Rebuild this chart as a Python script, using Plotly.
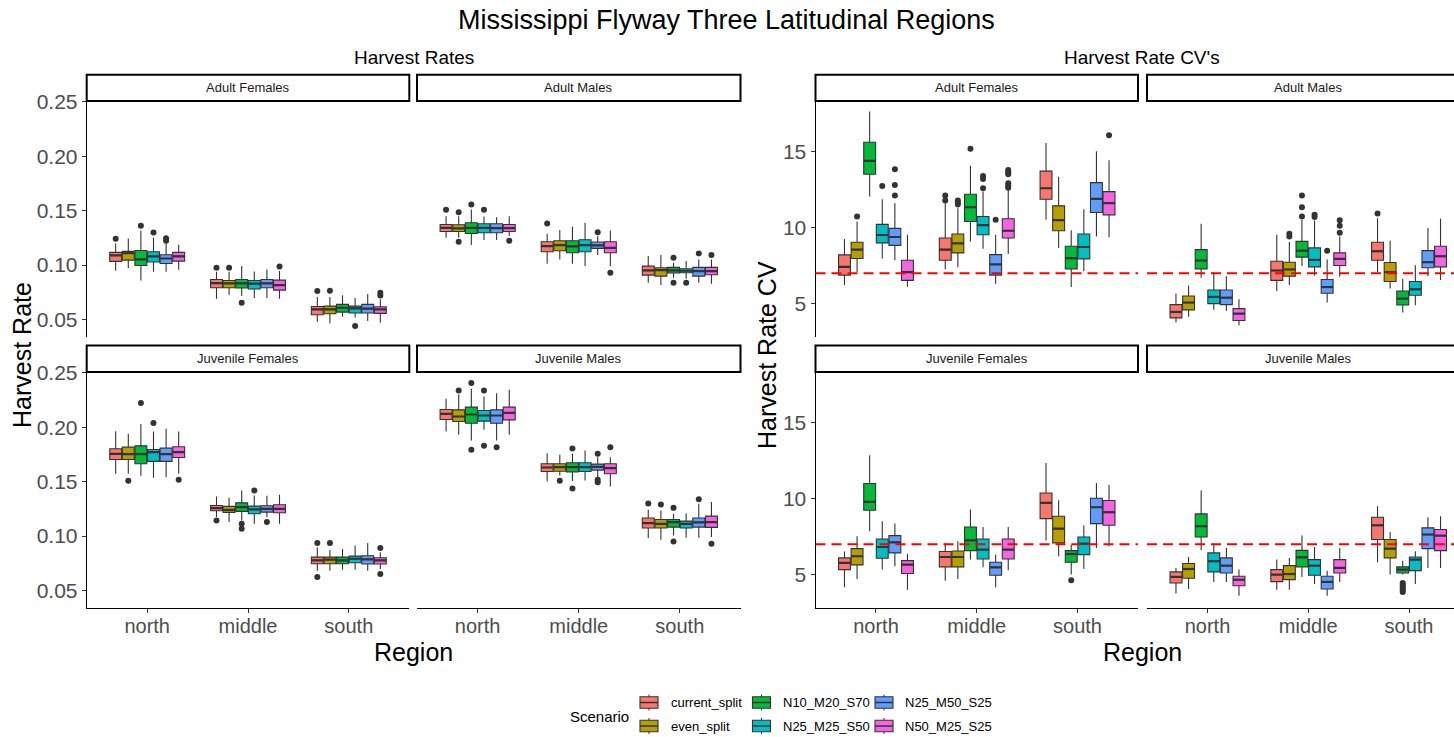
import plotly.graph_objects as go

# ---------------- data ----------------
SCENARIOS = ["current_split", "even_split", "N10_M20_S70", "N25_M25_S50", "N25_M50_S25", "N50_M25_S25"]
COLORS = ["#F8766D", "#B79F00", "#00BA38", "#00BFC4", "#619CFF", "#F564E3"]
REGIONS = ["north", "middle", "south"]
HR_TICKS = [0.05, 0.10, 0.15, 0.20, 0.25]
CV_TICKS = [5, 10, 15]
CV_TARGET = 7

# Harvest rates, Adult Females  (rows = scenarios, cols = north/middle/south)
AF_HR_q1 = [[.1033, .0791, .0543], [.1045, .0791, .0552], [.0996, .0788, .0567], [.1027, .0779, .0558], [.1014, .0791, .0558], [.1036, .0769, .0555]]
AF_HR_med = [[.1088, .0834, .0592], [.1109, .0831, .0592], [.1051, .0831, .0607], [.1079, .0828, .0601], [.1060, .0831, .0598], [.1079, .0815, .0592]]
AF_HR_q3 = [[.1116, .0867, .0619], [.1125, .0858, .0622], [.1134, .0867, .0638], [.1122, .0858, .0622], [.1094, .0867, .0638], [.1116, .0861, .0616]]
AF_HR_lo = [[.0947, .0690, .0478], [.0972, .0727, .0463], [.0858, .0714, .0524], [.0938, .0696, .0518], [.0938, .0696, .0484], [.0956, .0690, .0469]]
AF_HR_hi = [[.1198, .0938, .0705], [.1244, .0938, .0705], [.1318, .0990, .0723], [.1250, .0941, .0696], [.1198, .0959, .0733], [.1186, .0944, .0684]]
AF_HR_out = [(0, 0, .1241), (2, 0, .1361), (3, 0, .1299), (4, 0, .1247), (4, 0, .1223), (0, 1, .0975), (1, 1, .0975),
             (2, 1, .0653), (5, 1, .0987), (0, 2, .0760), (1, 2, .0763), (3, 2, .0439), (5, 2, .0745), (5, 2, .0720)]

# Harvest rates, Adult Males
AM_HR_q1 = [[.1308, .1122, .0907], [.1308, .1131, .0898], [.1290, .1113, .0926], [.1296, .1122, .0929], [.1296, .1153, .0898], [.1308, .1113, .0910]]
AM_HR_med = [[.1342, .1174, .0950], [.1336, .1183, .0953], [.1342, .1171, .0950], [.1342, .1183, .0947], [.1339, .1180, .0944], [.1339, .1158, .0944]]
AM_HR_q3 = [[.1373, .1214, .0990], [.1370, .1223, .0975], [.1388, .1223, .0978], [.1379, .1232, .0966], [.1379, .1211, .0978], [.1373, .1214, .0978]]
AM_HR_lo = [[.1250, .1011, .0837], [.1250, .1051, .0815], [.1183, .1011, .0883], [.1229, .0990, .0874], [.1229, .1091, .0837], [.1266, .0990, .0828]]
AM_HR_hi = [[.1449, .1287, .1082], [.1449, .1321, .1091], [.1511, .1351, .1021], [.1446, .1388, .1036], [.1440, .1266, .1051], [.1449, .1318, .1051]]
AM_HR_out = [(0, 0, .1508), (1, 0, .1486), (1, 0, .1214), (2, 0, .1557), (3, 0, .1508), (5, 0, .1223), (0, 1, .1382),
             (4, 1, .1302), (5, 1, .0929), (2, 2, .1067), (2, 2, .0837), (3, 2, .0837), (4, 2, .1106), (5, 2, .1091)]

# Harvest rates, Juvenile Females
JF_HR_q1 = [[.1704, .1232, .0745], [.1704, .1217, .0745], [.1664, .1226, .0745], [.1686, .1204, .0754], [.1686, .1220, .0742], [.1722, .1214, .0742]]
JF_HR_med = [[.1756, .1256, .0776], [.1753, .1241, .0782], [.1753, .1266, .0776], [.1771, .1244, .0791], [.1753, .1250, .0785], [.1771, .1250, .0776]]
JF_HR_q3 = [[.1802, .1281, .0806], [.1817, .1272, .0806], [.1829, .1305, .0806], [.1796, .1275, .0815], [.1808, .1278, .0818], [.1820, .1287, .0800]]
JF_HR_lo = [[.1572, .1174, .0681], [.1572, .1128, .0681], [.1554, .1143, .0690], [.1535, .1113, .0690], [.1541, .1174, .0681], [.1572, .1113, .0696]]
JF_HR_hi = [[.1964, .1364, .0895], [.1940, .1351, .0871], [.2029, .1419, .0880], [.1961, .1373, .0913], [.1986, .1370, .0935], [.1961, .1379, .0850]]
JF_HR_out = [(1, 0, .1508), (2, 0, .2224), (3, 0, .2038), (5, 0, .1517), (0, 1, .1143), (2, 1, .1113), (2, 1, .1067),
             (3, 1, .1419), (4, 1, .1128), (0, 2, .0935), (0, 2, .0622), (1, 2, .0935), (5, 2, .0889), (5, 2, .0650)]

# Harvest rates, Juvenile Males
JM_HR_q1 = [[.2071, .1593, .1073], [.2053, .1596, .1073], [.2037, .1590, .1082], [.2056, .1593, .1073], [.2037, .1606, .1082], [.2068, .1572, .1079]]
JM_HR_med = [[.2123, .1630, .1119], [.2099, .1633, .1112], [.2117, .1633, .1128], [.2108, .1633, .1112], [.2108, .1636, .1125], [.2132, .1624, .1128]]
JM_HR_q3 = [[.2163, .1664, .1165], [.2160, .1664, .1152], [.2185, .1673, .1152], [.2154, .1673, .1137], [.2160, .1661, .1165], [.2185, .1664, .1183]]
JM_HR_lo = [[.1961, .1501, .0981], [.1930, .1557, .0965], [.1878, .1505, .1005], [.1976, .1511, .0984], [.1878, .1541, .0984], [.1930, .1456, .0990]]
JM_HR_hi = [[.2261, .1762, .1241], [.2301, .1746, .1235], [.2353, .1756, .1204], [.2283, .1786, .1210], [.2313, .1725, .1296], [.2344, .1725, .1312]]
JM_HR_out = [(1, 0, .2338), (2, 0, .2408), (2, 0, .1792), (3, 0, .2338), (3, 0, .1829), (4, 0, .1817), (1, 1, .1508),
             (2, 1, .1805), (2, 1, .1437), (4, 1, .1756), (4, 1, .1517), (4, 1, .1495), (5, 1, .1817), (0, 2, .1299),
             (1, 2, .1290), (2, 2, .1259), (2, 2, .0950), (4, 2, .1339), (5, 2, .0929)]

# Harvest rate CVs, Adult Females
AF_CV_q1 = [[6.88, 7.86, 11.88], [7.97, 8.34, 9.80], [13.52, 10.41, 7.29], [9.00, 9.54, 7.95], [8.84, 6.88, 11.00], [6.53, 9.32, 10.85]]
AF_CV_med = [[7.42, 8.56, 12.60], [8.56, 8.97, 10.50], [14.41, 11.35, 7.99], [9.52, 10.17, 8.73], [9.39, 7.58, 11.90], [7.07, 9.80, 11.62]]
AF_CV_q3 = [[8.21, 9.32, 13.73], [9.04, 9.59, 11.44], [15.63, 12.21, 8.78], [10.22, 10.74, 9.59], [9.96, 8.23, 12.97], [7.86, 10.59, 12.38]]
AF_CV_lo = [[6.22, 7.25, 10.52], [7.07, 7.40, 8.67], [12.05, 9.10, 6.09], [7.97, 8.62, 7.14], [7.86, 6.31, 9.43], [6.11, 8.27, 9.37]]
AF_CV_hi = [[9.26, 11.62, 15.59], [10.41, 11.29, 13.36], [17.66, 14.08, 9.83], [11.88, 12.38, 11.22], [11.62, 9.54, 15.04], [9.54, 12.45, 14.45]]
AF_CV_out = [(1, 0, 10.74), (3, 0, 12.75), (4, 0, 13.86), (4, 0, 12.82), (4, 0, 12.12), (0, 1, 12.12), (0, 1, 11.79),
             (1, 1, 11.79), (1, 1, 11.66), (1, 1, 11.53), (2, 1, 15.20), (3, 1, 13.41), (3, 1, 13.21), (3, 1, 12.60),
             (4, 1, 10.52), (5, 1, 13.80), (5, 1, 13.65), (5, 1, 13.52), (5, 1, 12.93), (5, 1, 12.77), (5, 1, 12.64),
             (5, 2, 16.09)]

# Harvest rate CVs, Adult Males
AM_CV_q1 = [[4.06, 6.53, 7.86], [4.59, 6.81, 6.46], [7.29, 8.06, 4.91], [5.00, 7.42, 5.55], [4.93, 5.68, 7.36], [3.89, 7.51, 7.42]]
AM_CV_med = [[4.45, 7.18, 8.45], [5.07, 7.25, 7.07], [7.84, 8.49, 5.33], [5.44, 7.88, 5.94], [5.39, 6.09, 7.73], [4.34, 7.95, 8.12]]
AM_CV_q3 = [[4.93, 7.79, 9.04], [5.50, 7.73, 7.71], [8.56, 9.10, 5.83], [5.90, 8.67, 6.46], [5.90, 6.59, 8.49], [4.67, 8.34, 8.78]]
AM_CV_lo = [[3.76, 5.83, 7.07], [4.13, 6.22, 6.00], [6.70, 7.47, 4.41], [4.59, 6.86, 4.89], [4.52, 5.07, 6.81], [3.58, 6.77, 6.55]]
AM_CV_hi = [[5.66, 9.54, 10.63], [6.20, 9.06, 9.15], [10.26, 10.52, 6.64], [7.07, 10.48, 7.53], [6.81, 7.90, 9.98], [5.28, 9.43, 10.59]]
AM_CV_out = [(1, 1, 9.61), (1, 1, 9.43), (2, 1, 12.12), (2, 1, 11.35), (2, 1, 10.74), (3, 1, 10.85), (3, 1, 10.70),
             (4, 1, 8.49), (5, 1, 10.50), (5, 1, 10.13), (5, 1, 9.67), (0, 2, 10.94)]

# Harvest rate CVs, Juvenile Females
JF_CV_q1 = [[5.33, 5.51, 8.69], [5.64, 5.51, 7.09], [9.24, 6.58, 5.81], [6.08, 6.03, 6.32], [6.43, 4.96, 8.36], [5.07, 6.03, 8.25]]
JF_CV_med = [[5.77, 6.16, 9.73], [6.21, 6.16, 8.03], [9.79, 7.26, 6.36], [6.82, 6.65, 7.04], [7.13, 5.48, 9.44], [5.66, 6.65, 9.11]]
JF_CV_q3 = [[6.10, 6.52, 10.38], [6.71, 6.56, 8.85], [11.00, 8.14, 6.58], [7.35, 7.35, 7.48], [7.57, 5.81, 10.03], [5.92, 7.35, 9.88]]
JF_CV_lo = [[4.16, 4.60, 7.24], [4.71, 4.71, 6.21], [7.86, 5.99, 5.00], [5.33, 5.48, 5.37], [5.55, 4.16, 6.76], [4.01, 5.29, 6.87]]
JF_CV_hi = [[6.52, 7.09, 12.36], [7.53, 7.20, 9.90], [12.87, 9.29, 6.98], [8.52, 8.14, 8.23], [8.36, 6.32, 11.04], [6.38, 8.14, 10.91]]
JF_CV_out = [(2, 2, 4.63)]

# Harvest rate CVs, Juvenile Males
JM_CV_q1 = [[4.45, 4.54, 7.31], [4.76, 4.67, 6.10], [7.48, 5.51, 5.11], [5.18, 4.96, 5.26], [5.11, 4.05, 6.71], [4.27, 5.11, 6.58]]
JM_CV_med = [[4.85, 5.00, 8.25], [5.37, 5.04, 6.71], [8.19, 6.14, 5.33], [5.88, 5.59, 5.99], [5.59, 4.52, 7.64], [4.66, 5.44, 7.57]]
JM_CV_q3 = [[5.18, 5.33, 8.78], [5.73, 5.59, 7.31], [9.00, 6.60, 5.51], [6.43, 5.99, 6.16], [6.10, 4.89, 8.08], [4.89, 5.99, 7.97]]
JM_CV_lo = [[3.75, 4.01, 5.81], [4.05, 4.01, 5.00], [6.60, 4.85, 5.00], [4.52, 4.38, 4.38], [4.52, 3.61, 5.44], [3.61, 4.52, 5.44]]
JM_CV_hi = [[5.44, 5.99, 9.51], [6.16, 6.10, 7.81], [10.54, 7.57, 5.92], [7.04, 6.82, 6.54], [6.76, 5.26, 8.78], [5.33, 6.76, 8.85]]
JM_CV_out = [(2, 2, 4.45), (2, 2, 4.32), (2, 2, 4.20), (2, 2, 4.08), (2, 2, 3.96), (2, 2, 3.85)]

# ---------------- layout helpers ----------------
W, H = 1454, 737
FONT = "Arial, Liberation Sans, sans-serif"


def fx(px):
    return px / W


def fy(py):
    return 1 - py / H


COLS = {"A": (86.7, 409.3), "B": (417.0, 740.5), "C": (815.5, 1138.0), "D": (1147.0, 1454.0)}
ROWS = {"top": (101.0, 337.0), "bot": (372.0, 608.0)}
STRIPS = {"top": (74.7, 101.0), "bot": (345.5, 372.0)}
FULL_W = 322.5  # width of a full panel in px
HR_RANGE = [0.0338, 0.2508]
CV_RANGE = [2.8, 18.35]

# (axis index, col, row, title, kind, data)
PANELS = [
    (1, "A", "top", "Adult Females", "HR", (AF_HR_q1, AF_HR_med, AF_HR_q3, AF_HR_lo, AF_HR_hi, AF_HR_out)),
    (2, "B", "top", "Adult Males", "HR", (AM_HR_q1, AM_HR_med, AM_HR_q3, AM_HR_lo, AM_HR_hi, AM_HR_out)),
    (3, "A", "bot", "Juvenile Females", "HR", (JF_HR_q1, JF_HR_med, JF_HR_q3, JF_HR_lo, JF_HR_hi, JF_HR_out)),
    (4, "B", "bot", "Juvenile Males", "HR", (JM_HR_q1, JM_HR_med, JM_HR_q3, JM_HR_lo, JM_HR_hi, JM_HR_out)),
    (5, "C", "top", "Adult Females", "CV", (AF_CV_q1, AF_CV_med, AF_CV_q3, AF_CV_lo, AF_CV_hi, AF_CV_out)),
    (6, "D", "top", "Adult Males", "CV", (AM_CV_q1, AM_CV_med, AM_CV_q3, AM_CV_lo, AM_CV_hi, AM_CV_out)),
    (7, "C", "bot", "Juvenile Females", "CV", (JF_CV_q1, JF_CV_med, JF_CV_q3, JF_CV_lo, JF_CV_hi, JF_CV_out)),
    (8, "D", "bot", "Juvenile Males", "CV", (JM_CV_q1, JM_CV_med, JM_CV_q3, JM_CV_lo, JM_CV_hi, JM_CV_out)),
]

DODGE = 0.125
BOXW = 0.118
OFFS = [(i - 2.5) * DODGE for i in range(len(SCENARIOS))]
LINE = "#333333"

fig = go.Figure()
layout = dict(
    template="none",
    width=W, height=H, margin=dict(l=0, r=0, t=0, b=0, pad=0, autoexpand=False),
    paper_bgcolor="white", plot_bgcolor="white",
    font=dict(family=FONT, color="#1A1A1A"),
    showlegend=False, boxmode="overlay",
)
shapes, annots = [], []

for n, col, row, title, kind, data in PANELS:
    q1, med, q3, lo, hi, outl = data
    xa, ya = f"x{n}", f"y{n}"
    c0, c1 = COLS[col]
    r0, r1 = ROWS[row]
    xmax = 0.4 + 3.2 * (c1 - c0) / FULL_W if col == "D" else 3.6
    bottom = row == "bot"
    leftmost = col in ("A", "C")

    layout[f"xaxis{n}"] = dict(
        domain=[fx(c0), fx(c1)], range=[0.4, xmax], anchor=ya, automargin=False,
        showgrid=False, zeroline=False, fixedrange=True,
        showline=bottom, linecolor="black", linewidth=1,
        ticks="outside" if bottom else "", ticklen=4, tickcolor=LINE, tickwidth=1,
        tickvals=[1, 2, 3], ticktext=REGIONS, showticklabels=bottom, ticklabelstandoff=-4,
        tickfont=dict(size=20, color="#4D4D4D", family=FONT),
    )
    if kind == "HR":
        yr, tv, tt = HR_RANGE, HR_TICKS, [f"{v:.2f}" for v in HR_TICKS]
    else:
        yr, tv, tt = CV_RANGE, CV_TICKS, [str(v) for v in CV_TICKS]
    layout[f"yaxis{n}"] = dict(
        domain=[fy(r1), fy(r0)], range=yr, anchor=xa, automargin=False,
        showgrid=False, zeroline=False, fixedrange=True,
        showline=leftmost, linecolor="black", linewidth=1,
        ticks="outside" if leftmost else "", ticklen=4, tickcolor=LINE, tickwidth=1,
        tickvals=tv, ticktext=tt, showticklabels=leftmost,
        tickfont=dict(size=21, color="#4D4D4D", family=FONT),
    )

    for i, name in enumerate(SCENARIOS):
        xs = [r + 1 + OFFS[i] for r in range(len(REGIONS))]
        fig.add_trace(go.Box(
            x=xs, q1=q1[i], median=med[i], q3=q3[i], lowerfence=lo[i], upperfence=hi[i],
            width=BOXW, fillcolor=COLORS[i], line=dict(color=LINE, width=1.1),
            whiskerwidth=0, boxpoints=False, name=name, xaxis=xa, yaxis=ya,
            hoverinfo="skip", showlegend=False,
        ))
        mx, my = [], []
        for r in range(len(REGIONS)):
            mx += [xs[r] - BOXW / 2, xs[r] + BOXW / 2, None]
            my += [med[i][r], med[i][r], None]
        fig.add_trace(go.Scatter(x=mx, y=my, mode="lines", line=dict(color=LINE, width=2.2),
                                 xaxis=xa, yaxis=ya, hoverinfo="skip", showlegend=False))

    ox = [o[1] + 1 + OFFS[o[0]] for o in outl]
    oy = [o[2] for o in outl]
    fig.add_trace(go.Scatter(x=ox, y=oy, mode="markers", marker=dict(color=LINE, size=6),
                             xaxis=xa, yaxis=ya, hoverinfo="skip", showlegend=False))

    if kind == "CV":
        shapes.append(dict(type="line", xref=f"{xa} domain", yref=ya, x0=0, x1=1, y0=CV_TARGET, y1=CV_TARGET,
                           line=dict(color="#FF0000", width=2, dash="10px,6px"), layer="above"))

    # strip
    s0, s1 = STRIPS[row]
    sx1 = fx(c0 + FULL_W) if col == "D" else fx(c1)
    shapes.append(dict(type="rect", xref="paper", yref="paper", x0=fx(c0), x1=sx1, y0=fy(s1), y1=fy(s0),
                       line=dict(color="black", width=2), fillcolor="white", layer="above"))
    annots.append(dict(text=title, xref="paper", yref="paper", x=fx((c0 + c0 + FULL_W) / 2), y=fy((s0 + s1) / 2),
                       showarrow=False, xanchor="center", yanchor="middle",
                       font=dict(size=13, color="#1A1A1A", family=FONT)))

# titles
annots.append(dict(text="Mississippi Flyway Three Latitudinal Regions", x=fx(726), y=fy(20), xref="paper", yref="paper",
                   showarrow=False, xanchor="center", yanchor="middle", font=dict(size=27, color="black", family=FONT)))
annots.append(dict(text="Harvest Rates", x=fx(414), y=fy(58), xref="paper", yref="paper",
                   showarrow=False, xanchor="center", yanchor="middle", font=dict(size=19, color="black", family=FONT)))
annots.append(dict(text="Harvest Rate CV's", x=fx(1142), y=fy(58), xref="paper", yref="paper",
                   showarrow=False, xanchor="center", yanchor="middle", font=dict(size=19, color="black", family=FONT)))
annots.append(dict(text="Harvest Rate", x=fx(22), y=fy(355), xref="paper", yref="paper", textangle=-90,
                   showarrow=False, xanchor="center", yanchor="middle", font=dict(size=25, color="black", family=FONT)))
annots.append(dict(text="Harvest Rate CV", x=fx(767), y=fy(355), xref="paper", yref="paper", textangle=-90,
                   showarrow=False, xanchor="center", yanchor="middle", font=dict(size=25, color="black", family=FONT)))
for cx in (413, 1142):
    annots.append(dict(text="Region", x=fx(cx), y=fy(652), xref="paper", yref="paper",
                       showarrow=False, xanchor="center", yanchor="middle", font=dict(size=25, color="black", family=FONT)))

# manual legend (2 rows x 3 columns, column-major order)
annots.append(dict(text="Scenario", x=fx(568), y=fy(716), xref="paper", yref="paper",
                   showarrow=False, xanchor="left", yanchor="middle", font=dict(size=15, color="black", family=FONT)))
KEY_X = [640, 752.5, 875]
TXT_X = [669, 780.5, 903]
ROW_Y = [702.5, 726]
for i, name in enumerate(SCENARIOS):
    c, r = i // 2, i % 2
    kx0, kx1 = KEY_X[c], KEY_X[c] + 18
    cy = ROW_Y[r]
    kcx = (kx0 + kx1) / 2
    shapes.append(dict(type="line", xref="paper", yref="paper", x0=fx(kcx), x1=fx(kcx), y0=fy(cy - 8), y1=fy(cy + 8),
                       line=dict(color=LINE, width=1)))
    shapes.append(dict(type="rect", xref="paper", yref="paper", x0=fx(kx0), x1=fx(kx1), y0=fy(cy + 5.7), y1=fy(cy - 5.7),
                       line=dict(color=LINE, width=1.1), fillcolor=COLORS[i]))
    shapes.append(dict(type="line", xref="paper", yref="paper", x0=fx(kx0), x1=fx(kx1), y0=fy(cy), y1=fy(cy),
                       line=dict(color=LINE, width=1.5)))
    annots.append(dict(text=name, x=fx(TXT_X[c]), y=fy(cy), xref="paper", yref="paper",
                       showarrow=False, xanchor="left", yanchor="middle", font=dict(size=13, color="black", family=FONT)))

layout["shapes"] = shapes
layout["annotations"] = annots
fig.update_layout(**layout)
fig.write_html("out.html", config={"displayModeBar": False})
